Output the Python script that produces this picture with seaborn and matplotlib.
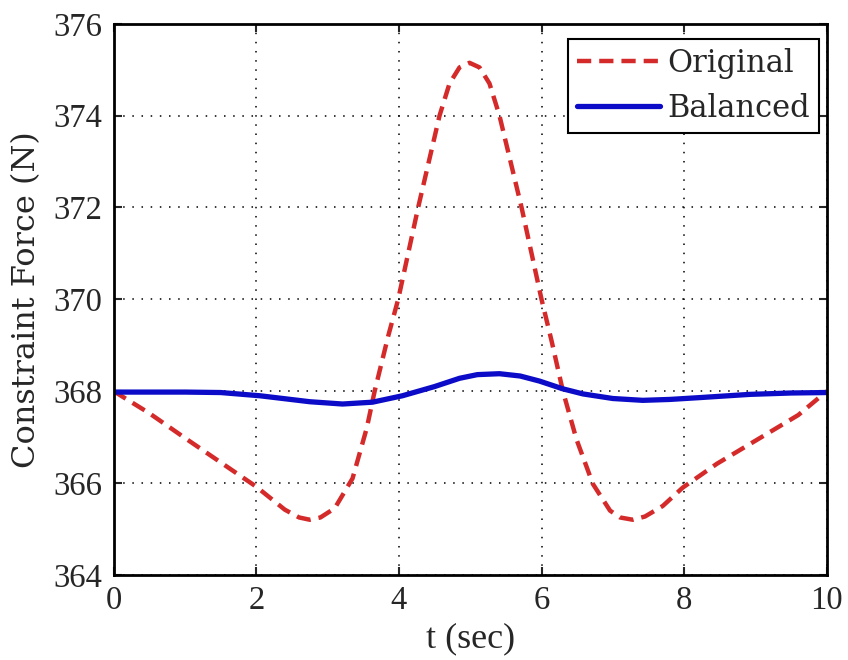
import seaborn as sns
import matplotlib.pyplot as plt

# values
t_original = [0, 0.5, 1.0, 1.5, 2.0, 2.4, 2.6, 2.75, 2.9, 3.1, 3.35, 3.55, 3.66,
              3.85, 3.99, 4.27, 4.57, 4.71, 4.85, 4.99, 5.13, 5.27, 5.41, 5.72,
              6.0, 6.14, 6.30, 6.49, 6.72, 6.96, 7.1, 7.28, 7.45, 7.7, 7.98,
              8.46, 9.16, 9.6, 10.0]
f_original = [368.0, 367.52, 366.98, 366.45, 365.92, 365.42, 365.25, 365.2, 365.25,
              365.45, 366.1, 367.2, 368.0, 369.2, 370.0, 372.0, 374.0, 374.7,
              375.05, 375.15, 375.05, 374.7, 374.0, 372.0, 370.0, 369.1, 368.0,
              366.95, 365.98, 365.4, 365.25, 365.2, 365.27, 365.5, 365.9, 366.42,
              367.07, 367.48, 368.0]

t_balanced = [0, 1.0, 1.5, 2.05, 2.75, 3.21, 3.63, 4.05, 4.5, 4.85, 5.1, 5.41, 5.7,
              5.97, 6.3, 6.58, 7.0, 7.42, 7.8, 8.22, 8.92, 9.5, 10]
f_balanced = [367.98, 367.98, 367.97, 367.9, 367.77, 367.72, 367.76, 367.9, 368.1,
              368.28, 368.36, 368.38, 368.33, 368.22, 368.05, 367.94, 367.84, 367.8,
              367.82, 367.86, 367.93, 367.96, 367.97]

x_ticks = [0, 2, 4, 6, 8, 10]
y_ticks = [364, 366, 368, 370, 372, 374, 376]

sns.set_style("ticks")
plt.rcParams['font.family'] = ['Liberation Serif', 'DejaVu Serif']

fig, ax = plt.subplots(figsize=(8.48, 6.6), dpi=100)
fig.subplots_adjust(left=0.134, right=0.975, top=0.964, bottom=0.129)

sns.lineplot(x=t_original, y=f_original, ax=ax, color='#d42a2a', linewidth=3.2,
             label='Original').lines[0].set_dashes((3.2, 1.8))
sns.lineplot(x=t_balanced, y=f_balanced, ax=ax, color='#0c0cc8', linewidth=3.8,
             label='Balanced')

ax.set_xlim(0, 10)
ax.set_ylim(364, 376)
ax.set_xticks(x_ticks)
ax.set_yticks(y_ticks)
ax.grid(True, color='black', linestyle=(0, (1, 5)), linewidth=1.1)
ax.tick_params(direction='in', length=6, width=1.5, top=True, right=True,
               labelsize=23.5, pad=8)
for s in ax.spines.values():
    s.set_linewidth(2)
    s.set_color('black')

ax.set_xlabel('t (sec)', fontsize=26, labelpad=4)
ax.set_ylabel('Constraint Force (N)', fontsize=23, family='DejaVu Serif', labelpad=8)

leg = ax.legend(loc='upper right', bbox_to_anchor=(0.989, 0.973), borderaxespad=0,
                fancybox=False, framealpha=1, edgecolor='black', handlelength=2.7,
                prop={'family': 'DejaVu Serif', 'size': 22}, borderpad=0.3,
                labelspacing=0.45, handletextpad=0.25)
leg.get_frame().set_linewidth(1.5)

fig.savefig('out.png', dpi=100)
